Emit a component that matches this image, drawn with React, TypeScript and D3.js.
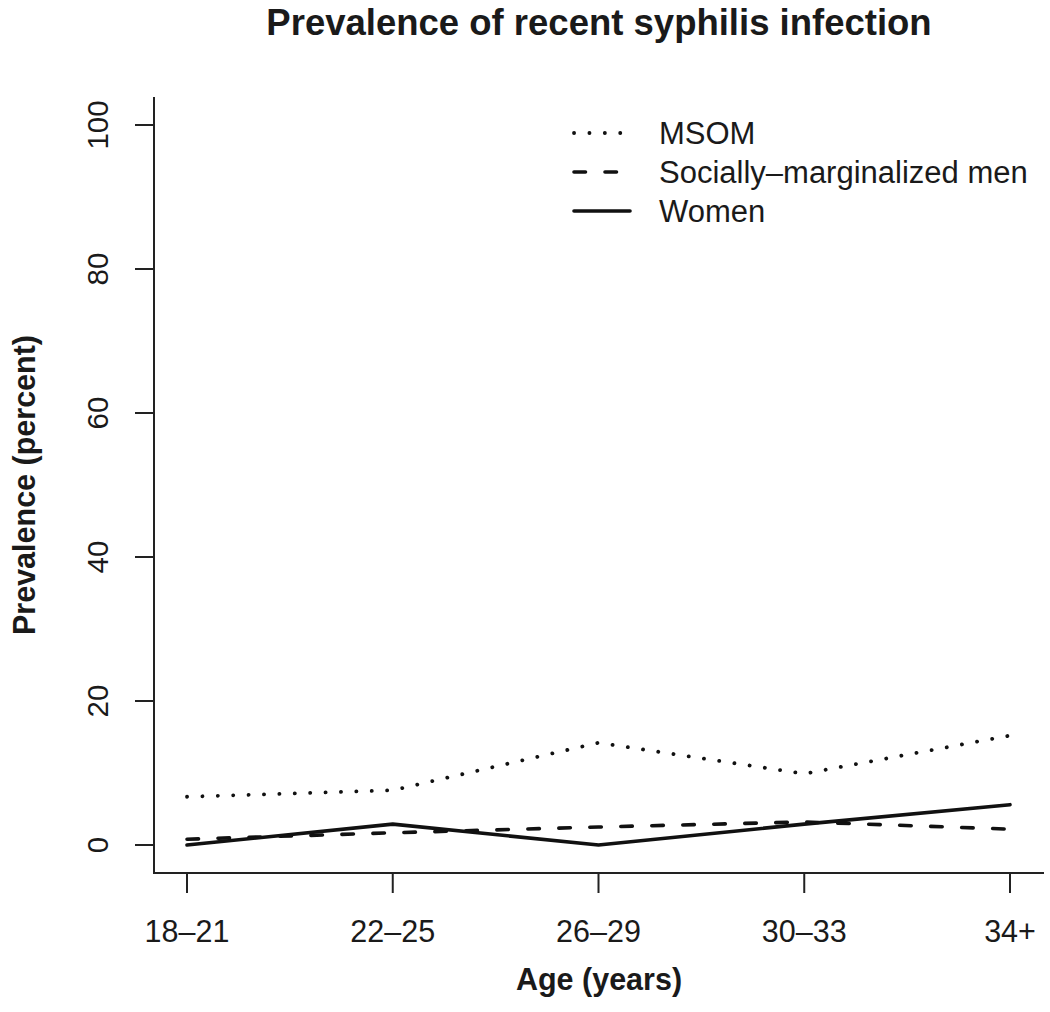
import React from "react";
import * as d3 from "d3";

const categories = ["18–21", "22–25", "26–29", "30–33", "34+"];
const msom = [6.7, 7.6, 14.2, 9.9, 15.2];
const smm = [0.8, 1.7, 2.5, 3.2, 2.2];
const women = [0.0, 2.9, 0.0, 2.9, 5.6];
const yTicks = [0, 20, 40, 60, 80, 100];
const seriesNames = ["MSOM", "Socially–marginalized men", "Women"];

const W = 1050;
const H = 1012;
const FONT = "'Liberation Sans', Arial, Helvetica, sans-serif";

export default function App() {
  const x = d3.scalePoint<string>().domain(categories).range([187, 1010]);
  const y = d3.scaleLinear().domain([0, 100]).range([845, 125]);
  const box = { left: 154, right: 1044, top: 97, bottom: 873 };

  const line = d3
    .line<number>()
    .x((_, i) => x(categories[i]) as number)
    .y((d) => y(d));

  const styles = [
    { data: msom, dash: "0.1 15.3", width: 3.8 },
    { data: smm, dash: "11.5 19.5", width: 3.6 },
    { data: women, dash: null, width: 3.6 },
  ];

  const legendRows = [133, 172, 211];

  return (
    <svg
      width={W}
      height={H}
      style={{ position: "absolute", left: 0, top: 0, background: "#fff" }}
      fontFamily={FONT}
    >
      <rect width={W} height={H} fill="#fff" />
      <text
        x={599}
        y={35}
        textAnchor="middle"
        fontWeight="bold"
        fontSize={36.5}
        fill="#1a1a1a"
      >
        Prevalence of recent syphilis infection
      </text>

      {/* box L */}
      <path
        d={`M${box.left},${box.top}V${box.bottom}H${box.right}`}
        fill="none"
        stroke="#222"
        strokeWidth={2}
      />

      {/* y ticks */}
      {yTicks.map((t) => (
        <g key={t}>
          <line
            x1={135}
            x2={box.left}
            y1={y(t)}
            y2={y(t)}
            stroke="#222"
            strokeWidth={2}
          />
          <text
            transform={`translate(108,${y(t)}) rotate(-90)`}
            textAnchor="middle"
            fontSize={29.5}
            fill="#1a1a1a"
          >
            {t}
          </text>
        </g>
      ))}

      {/* x ticks */}
      {categories.map((c) => (
        <g key={c}>
          <line
            x1={x(c)}
            x2={x(c)}
            y1={box.bottom}
            y2={893}
            stroke="#222"
            strokeWidth={2}
          />
          <text
            x={x(c)}
            y={942}
            textAnchor="middle"
            fontSize={30.5}
            fill="#1a1a1a"
          >
            {c}
          </text>
        </g>
      ))}

      <text
        x={599}
        y={990}
        textAnchor="middle"
        fontWeight="bold"
        fontSize={30.5}
        fill="#1a1a1a"
      >
        Age (years)
      </text>
      <text
        transform={`translate(35,${(box.top + box.bottom) / 2}) rotate(-90)`}
        textAnchor="middle"
        fontWeight="bold"
        fontSize={30.5}
        fill="#1a1a1a"
      >
        Prevalence (percent)
      </text>

      {styles.map((s, i) => (
        <path
          key={i}
          d={line(s.data) || ""}
          fill="none"
          stroke="#111"
          strokeWidth={s.width}
          strokeLinecap="round"
          strokeLinejoin="round"
          strokeDasharray={s.dash || undefined}
        />
      ))}

      {/* legend */}
      {seriesNames.map((n, i) => (
        <g key={n}>
          <line
            x1={574}
            x2={630}
            y1={legendRows[i]}
            y2={legendRows[i]}
            stroke="#111"
            strokeWidth={styles[i].width}
            strokeLinecap="round"
            strokeDasharray={styles[i].dash || undefined}
          />
          <text
            x={659}
            y={legendRows[i] + 10.5}
            fontSize={31}
            fill="#1a1a1a"
          >
            {n}
          </text>
        </g>
      ))}
    </svg>
  );
}
